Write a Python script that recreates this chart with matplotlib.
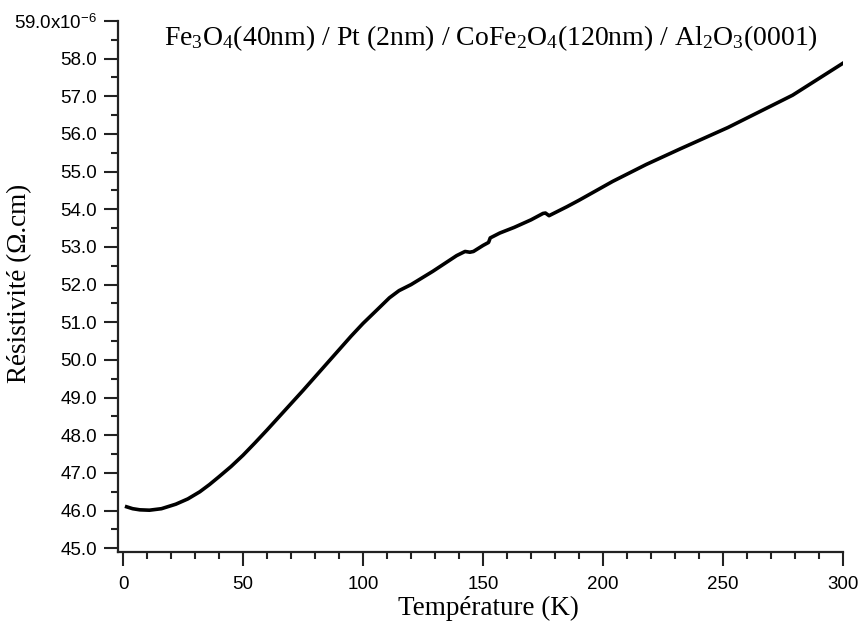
import matplotlib.pyplot as plt
from matplotlib.ticker import MultipleLocator, FuncFormatter

# température (K) et résistivité (x1e-6 ohm.cm)
temperature = [1.5, 4, 7, 11, 16, 22, 27, 32, 36, 40, 45, 50, 55, 60, 65, 70, 75, 80,
               85, 90, 95, 100, 106, 111, 115, 120, 129, 139, 142.5, 144.5, 146,
               150, 152.3, 153, 157, 163, 170, 175, 176, 177.5, 185, 190, 204,
               218, 232, 252, 279, 300]
resistivite = [46.10, 46.05, 46.02, 46.01, 46.05, 46.17, 46.31, 46.50, 46.69, 46.90,
               47.17, 47.47, 47.80, 48.14, 48.49, 48.84, 49.19, 49.55, 49.91,
               50.27, 50.63, 50.97, 51.34, 51.65, 51.84, 52.00, 52.35,
               52.77, 52.88, 52.86, 52.88, 53.04, 53.12, 53.24, 53.37, 53.52,
               53.72, 53.89, 53.90, 53.83, 54.07, 54.24, 54.74, 55.19, 55.60,
               56.17, 57.03, 57.88]

titre = r"Fe$_3$O$_4$(40nm) / Pt (2nm) / CoFe$_2$O$_4$(120nm) / Al$_2$O$_3$(0001)"

plt.rcParams['mathtext.fontset'] = 'custom'
plt.rcParams['mathtext.rm'] = 'Liberation Serif'
plt.rcParams['mathtext.it'] = 'Liberation Serif:italic'
plt.rcParams['mathtext.sf'] = 'Liberation Sans'

fig = plt.figure(figsize=(8.62, 6.3), dpi=100)
ax = fig.add_axes([0.1369, 0.1238, 0.8411, 0.8429])

ax.plot(temperature, resistivite, color='black', lw=2.6, solid_joinstyle='round')

ax.set_xlim(-2.1, 300)
ax.set_ylim(44.9, 59)
ax.spines['top'].set_visible(False)
ax.spines['right'].set_visible(False)
for s in ['left', 'bottom']:
    ax.spines[s].set_linewidth(1.6)
    ax.spines[s].set_color('#222222')

ax.xaxis.set_major_locator(MultipleLocator(50))
ax.xaxis.set_minor_locator(MultipleLocator(10))
ax.yaxis.set_major_locator(MultipleLocator(1))
ax.yaxis.set_minor_locator(MultipleLocator(0.5))


def fmt_y(v, pos):
    if abs(v - 59) < 1e-6:
        return r"59.0x10$^{\mathsf{-6}}$"
    return "%.1f" % v


ax.yaxis.set_major_formatter(FuncFormatter(fmt_y))
ax.tick_params(which='major', direction='out', length=10, width=1.5, color='#222222',
               labelsize=13.5, pad=5)
ax.tick_params(which='minor', direction='out', length=5, width=1.5, color='#222222')
ax.tick_params(axis='x', which='major', pad=7)
for lab in ax.get_xticklabels() + ax.get_yticklabels():
    lab.set_family('Liberation Sans')

ax.set_xlabel("Température (K)", family='Liberation Serif', fontsize=19.5)
ax.set_ylabel("Résistivité (Ω.cm)", family='Liberation Serif', fontsize=19.5)
ax.xaxis.set_label_coords(0.511, -0.082)
ax.yaxis.set_label_coords(-0.118, 0.505)

ax.text(0.514, 0.968, titre, transform=ax.transAxes, ha='center', va='center',
        family='Liberation Serif', fontsize=20)

fig.savefig('out.png', dpi=100)
